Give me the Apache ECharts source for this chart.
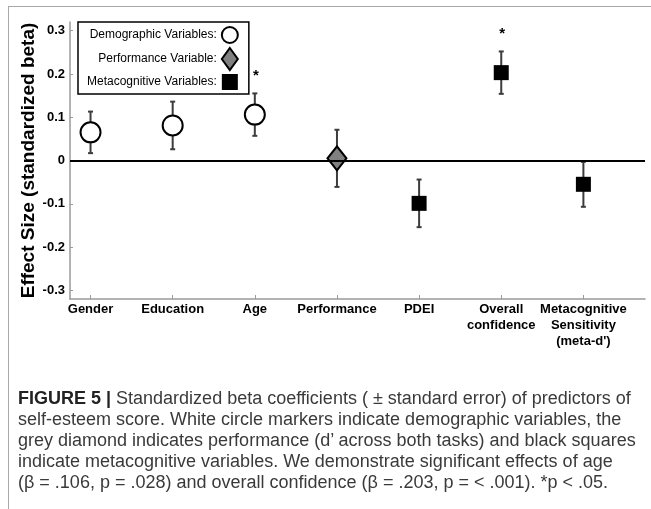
<!DOCTYPE html>
<html>
<head>
<meta charset="utf-8">
<script src="https://cdn.jsdelivr.net/npm/echarts@6/dist/echarts.min.js"></script>
<style>
  html, body { margin: 0; padding: 0; background: #fff; }
  #frame {
    position: absolute; left: 8px; top: 6px; width: 643px; height: 503px;
    border-top: 1px solid #a8a8a8; border-left: 1px solid #a8a8a8;
  }
  #chart { position: absolute; left: 0; top: 0; width: 651px; height: 509px; }
  #caption {
    position: absolute; left: 18px; top: 388px; width: 640px;
    font-family: "Liberation Sans", Arial, sans-serif; font-size: 18px;
    line-height: 21px; color: #3a3a3a; white-space: nowrap;
  }
  #caption b { color: #222; }
</style>
</head>
<body>
<div id="frame"></div>
<div id="chart"></div>
<div id="caption"><b>FIGURE 5 |</b> Standardized beta coefficients ( ± standard error) of predictors of<br>self-esteem score. White circle markers indicate demographic variables, the<br>grey diamond indicates performance (d’ across both tasks) and black squares<br>indicate metacognitive variables. We demonstrate significant effects of age<br>(β = .106, p = .028) and overall confidence (β = .203, p = &lt; .001). *p &lt; .05.</div>
<script>
// predictors along the x axis
var categories = ["Gender", "Education", "Age", "Performance", "PDEI",
  "Overall\nconfidence", "Metacognitive\nSensitivity\n(meta-d')"];
// standardized beta and its standard error
var beta = [0.065, 0.081, 0.106, 0.005, -0.099, 0.203, -0.055];
var stdErr = [0.048, 0.055, 0.049, 0.066, 0.055, 0.049, 0.052];
// which marker group each predictor belongs to
var groups = ["demo", "demo", "demo", "perf", "meta", "meta", "meta"];
var significant = [false, false, true, false, false, true, false];
var yTicks = [-0.3, -0.2, -0.1, 0, 0.1, 0.2, 0.3];
var xTicks = [1, 2, 3, 4, 5, 6, 7];

var font = "Liberation Sans";

function pointsFor(g) {
  var res = [];
  for (var i = 0; i < beta.length; i++) {
    if (groups[i] === g) res.push([i + 1, beta[i]]);
  }
  return res;
}

var errData = beta.map(function (b, i) {
  return [i + 1, b - stdErr[i], b + stdErr[i], significant[i] ? 1 : 0];
});

var option = {
  animation: false,
  grid: { left: 70, right: 6, top: 22, bottom: 210 },
  legend: {
    left: 78,
    top: 22,
    orient: "vertical",
    align: "right",
    padding: [4, 10, 4, 9],
    itemGap: 3,
    itemWidth: 16,
    itemHeight: 22,
    borderColor: "#000",
    borderWidth: 1.5,
    backgroundColor: "#fff",
    textStyle: { fontFamily: font, fontSize: 12, color: "#000", width: 141 },
    formatter: function (name) { return name + ":"; },
    data: [
      { name: "Demographic Variables" },
      { name: "Performance Variable" },
      { name: "Metacognitive Variables", icon: "path://M0,0H10V10H0Z" },
    ],
  },
  xAxis: {
    type: "value",
    min: 0.75,
    max: 7.75,
    splitLine: { show: false },
    axisLine: { onZero: false, lineStyle: { color: "#9a9a9a", width: 1.5 } },
    axisTick: { inside: true, length: 4, customValues: xTicks, lineStyle: { color: "#9a9a9a" } },
    axisLabel: {
      customValues: xTicks,
      margin: 2,
      fontFamily: font,
      fontSize: 13,
      fontWeight: "bold",
      color: "#000",
      lineHeight: 16,
      align: "center",
      formatter: function (v) { return categories[Math.round(v) - 1]; },
    },
  },
  yAxis: {
    type: "value",
    min: -0.32,
    max: 0.32,
    name: "Effect Size (standardized beta)",
    nameLocation: "middle",
    nameGap: 32,
    nameMoveOverlap: false,
    nameTextStyle: { fontFamily: font, fontSize: 19, fontWeight: "bold", color: "#000" },
    splitLine: { show: false },
    axisLine: { show: true, onZero: false, lineStyle: { color: "#9a9a9a", width: 1.5 } },
    axisTick: { inside: true, length: 3, customValues: yTicks, lineStyle: { color: "#9a9a9a" } },
    axisLabel: {
      customValues: yTicks,
      margin: 5,
      fontFamily: font,
      fontSize: 13,
      fontWeight: "bold",
      color: "#000",
      formatter: function (v) { return Math.abs(v) < 1e-9 ? "0" : v.toFixed(1); },
    },
  },
  series: [
    {
      name: "errors",
      type: "custom",
      z: 2,
      data: errData,
      renderItem: function (params, api) {
        var x = api.value(0);
        var lo = api.coord([x, api.value(1)]);
        var hi = api.coord([x, api.value(2)]);
        var style = { stroke: "#3c3c3c", lineWidth: 2 };
        var kids = [
          { type: "line", shape: { x1: lo[0], y1: lo[1], x2: hi[0], y2: hi[1] }, style: style },
          { type: "line", shape: { x1: lo[0] - 2.5, y1: lo[1], x2: lo[0] + 2.5, y2: lo[1] }, style: style },
          { type: "line", shape: { x1: hi[0] - 2.5, y1: hi[1], x2: hi[0] + 2.5, y2: hi[1] }, style: style },
        ];
        if (api.value(3)) {
          kids.push({
            type: "text",
            style: {
              text: "*", x: hi[0] + 1, y: hi[1] - 18,
              fill: "#000", font: "bold 15px " + font, align: "center", verticalAlign: "middle",
            },
          });
        }
        return { type: "group", children: kids };
      },
      markLine: {
        silent: true,
        symbol: "none",
        label: { show: false },
        lineStyle: { color: "#000", width: 2, type: "solid" },
        data: [{ yAxis: 0 }],
      },
    },
    {
      name: "Demographic Variables",
      type: "scatter",
      z: 3,
      symbol: "circle",
      symbolSize: 20,
      itemStyle: { color: "#fff", borderColor: "#000", borderWidth: 2, opacity: 1 },
      data: pointsFor("demo"),
    },
    {
      name: "Performance Variable",
      type: "scatter",
      z: 3,
      symbol: "diamond",
      symbolSize: [19, 24],
      itemStyle: { color: "#808080", borderColor: "#000", borderWidth: 2, opacity: 1 },
      data: pointsFor("perf"),
    },
    {
      name: "Metacognitive Variables",
      type: "scatter",
      z: 3,
      symbol: "rect",
      symbolSize: 15,
      itemStyle: { color: "#000", opacity: 1 },
      data: pointsFor("meta"),
    },
  ],
};

var chart = echarts.init(document.getElementById("chart"));
chart.setOption(option);
</script>
</body>
</html>
